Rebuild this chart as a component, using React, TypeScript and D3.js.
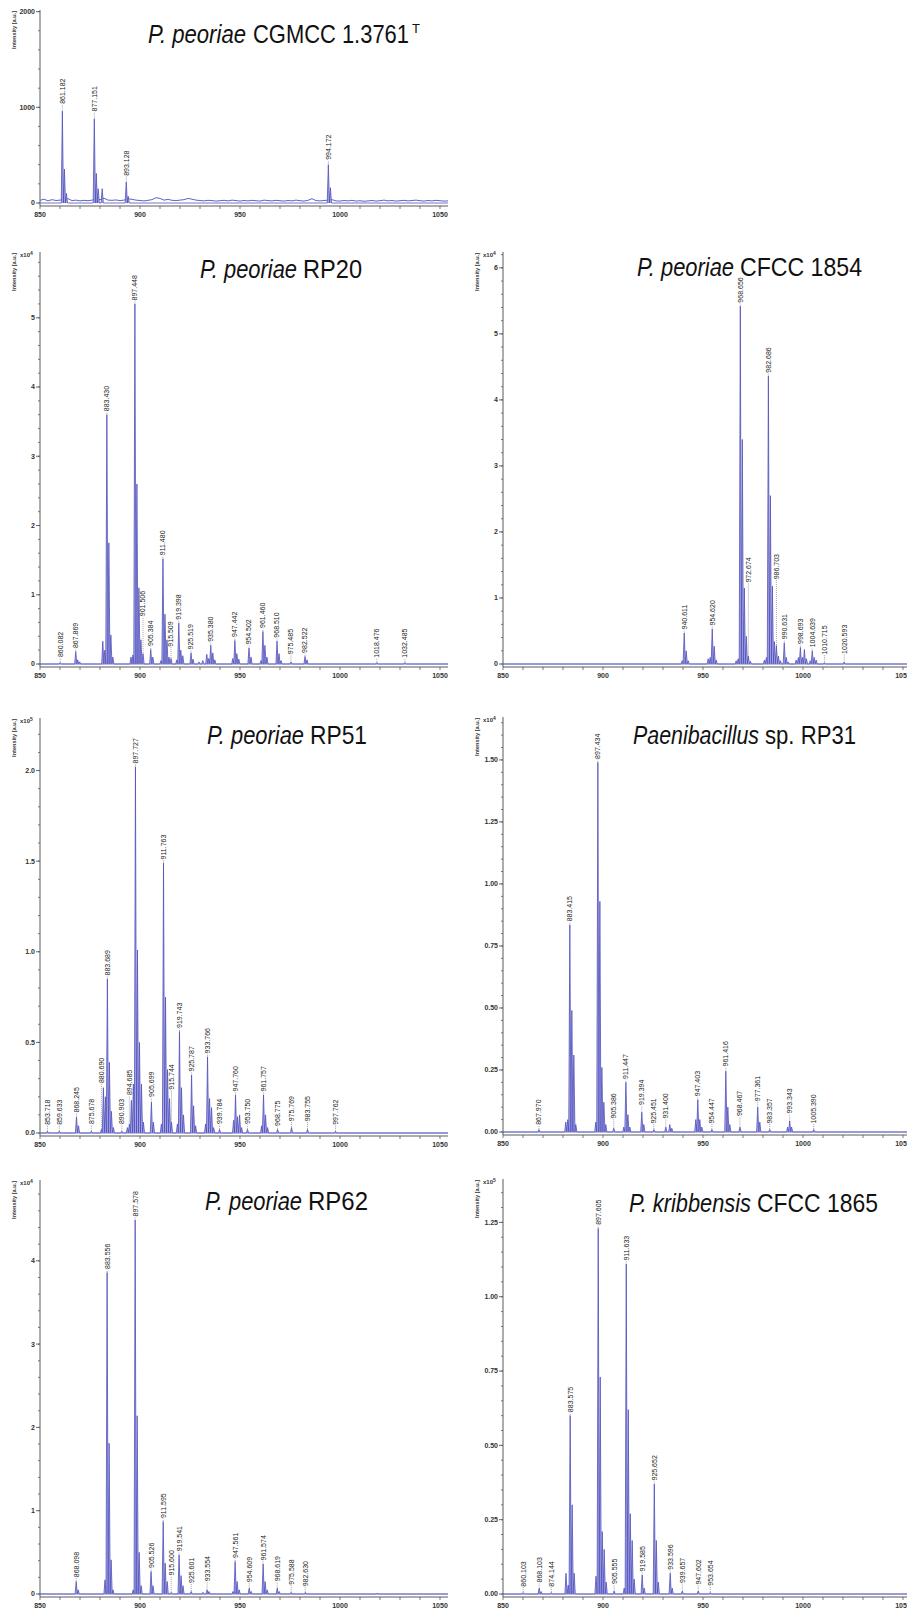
import React from "react";
import * as d3 from "d3";

type Peak = [number, number];
type Label = [string, number];

const MZ_DOMAIN: [number, number] = [850, 1054];
const xTickLabels = [850, 900, 950, 1000, 1050];
const xMinorTicks = d3.range(850, 1055, 10);

// ---------- Panel 1: P. peoriae CGMCC 1.3761T (absolute intensity) ----------
const cgmccPeaks: Peak[] = [
  [861.18, 960], [862.2, 355], [863.2, 100], [877.15, 880], [878.15, 310], [879.1, 150],
  [881.1, 150], [893.13, 220], [894.1, 70], [994.17, 400], [995.2, 160],
];
// baseline noise, every 2 m/z from 850 to 1054
const cgmccNoise = [
  28, 40, 22, 35, 26, 30, 38, 45, 25, 30, 22, 28, 24, 30, 40, 35, 50, 30, 28, 32,
  25, 30, 45, 38, 30, 26, 22, 28, 35, 55, 48, 30, 38, 28, 25, 30, 35, 48, 40, 30,
  26, 22, 28, 25, 20, 24, 28, 22, 30, 25, 20, 26, 22, 28, 24, 20, 30, 25, 22, 28,
  24, 20, 26, 22, 30, 24, 20, 28, 45, 25, 22, 26, 30, 35, 22, 20, 26, 22, 28, 20,
  24, 18, 22, 26, 20, 24, 30, 22, 26, 20, 24, 28, 22, 26, 30, 24, 20, 26, 22, 28,
  24, 20, 22,
];
const cgmccLabels: Label[] = [["861.182", 1000], ["877.151", 920], ["893.128", 247], ["994.172", 415]];
const cgmccYTicks = [0, 1000, 2000];

// ---------- Panel 2: P. peoriae RP20 (x10^4) ----------
const rp20Peaks: Peak[] = [
  [860.08, 0.02], [867.87, 0.18], [868.87, 0.06], [869.9, 0.03],
  [881.4, 0.33], [882.4, 0.2], [883.43, 3.6], [884.43, 1.75], [885.43, 0.42], [886.4, 0.1],
  [895.5, 0.1], [896.45, 0.13], [897.45, 5.2], [898.45, 2.6], [899.45, 1.1], [900.45, 0.35], [901.51, 0.15],
  [905.38, 0.21], [906.4, 0.1],
  [910.5, 0.05], [911.48, 1.52], [912.48, 0.72], [913.48, 0.35], [914.5, 0.1], [915.51, 0.08],
  [918.4, 0.06], [919.4, 0.59], [920.4, 0.2], [921.4, 0.12],
  [925.52, 0.16], [926.5, 0.07],
  [929.5, 0.03], [931.4, 0.05], [933.4, 0.14], [934.4, 0.08], [935.38, 0.27], [936.4, 0.16], [937.4, 0.06],
  [946.4, 0.08], [947.44, 0.34], [948.44, 0.15], [949.4, 0.07],
  [954.5, 0.23], [955.5, 0.1],
  [960.5, 0.05], [961.46, 0.47], [962.46, 0.27], [963.46, 0.1],
  [968.51, 0.33], [969.5, 0.15], [970.5, 0.05],
  [975.49, 0.03], [982.52, 0.11], [983.5, 0.06], [1018.48, 0.02], [1032.49, 0.02],
];
const rp20Labels: Label[] = [
  ["860.082", 0.05], ["867.869", 0.18], ["883.430", 3.6], ["897.448", 5.2], ["901.506", 0.64],
  ["905.384", 0.21], ["911.480", 1.52], ["915.509", 0.2], ["919.398", 0.59], ["925.519", 0.16],
  ["935.380", 0.27], ["947.442", 0.34], ["954.502", 0.23], ["961.460", 0.47], ["968.510", 0.33],
  ["975.485", 0.09], ["982.522", 0.11], ["1018.476", 0.04], ["1032.485", 0.04],
];
const rp20YTicks = [0, 1, 2, 3, 4, 5];

// ---------- Panel 3: P. peoriae CFCC 1854 (x10^4) ----------
const cfcc1854Peaks: Peak[] = [
  [939.6, 0.05], [940.61, 0.47], [941.6, 0.2], [942.6, 0.05],
  [952.6, 0.08], [953.6, 0.1], [954.62, 0.53], [955.6, 0.27], [956.6, 0.06],
  [966.6, 0.05], [967.6, 0.08], [968.66, 5.42], [969.66, 3.4], [970.66, 1.15], [971.66, 0.42], [972.67, 0.12], [973.7, 0.04],
  [980.7, 0.06], [981.7, 0.1], [982.69, 4.36], [983.69, 2.55], [984.69, 1.18], [985.69, 0.34], [986.7, 0.28], [987.7, 0.12], [988.7, 0.05],
  [990.63, 0.32], [991.6, 0.1], [992.6, 0.03],
  [996.6, 0.06], [997.7, 0.1], [998.69, 0.25], [999.7, 0.1], [1000.7, 0.22], [1001.7, 0.08],
  [1003.6, 0.05], [1004.64, 0.2], [1005.6, 0.1], [1006.6, 0.06],
  [1010.72, 0.02], [1020.59, 0.03],
];
const cfcc1854Labels: Label[] = [
  ["940.611", 0.47], ["954.620", 0.53], ["968.656", 5.42], ["972.674", 1.18], ["982.686", 4.36],
  ["986.703", 1.23], ["990.631", 0.32], ["998.693", 0.25], ["1004.639", 0.2], ["1010.715", 0.09], ["1020.593", 0.1],
];
const cfcc1854YTicks = [0, 1, 2, 3, 4, 5, 6];

// ---------- Panel 4: P. peoriae RP51 (x10^5) ----------
const rp51Peaks: Peak[] = [
  [853.72, 0.01], [859.63, 0.01], [868.25, 0.088], [869.25, 0.04], [875.68, 0.01],
  [880.69, 0.02], [881.7, 0.25], [882.7, 0.2], [883.69, 0.85], [884.69, 0.39], [885.69, 0.12], [886.7, 0.03],
  [890.9, 0.01], [893.7, 0.03], [894.69, 0.05], [895.7, 0.18], [896.7, 0.27], [897.73, 2.02], [898.73, 1.01], [899.73, 0.5], [900.73, 0.27], [901.7, 0.06],
  [905.7, 0.17], [906.7, 0.06],
  [910.7, 0.05], [911.76, 1.49], [912.76, 0.75], [913.76, 0.35], [914.76, 0.19], [915.74, 0.06],
  [918.7, 0.05], [919.74, 0.56], [920.74, 0.25], [921.74, 0.1],
  [925.79, 0.32], [926.79, 0.15], [927.8, 0.04],
  [932.8, 0.05], [933.77, 0.42], [934.77, 0.19], [935.77, 0.14], [936.8, 0.03], [939.78, 0.02],
  [946.8, 0.07], [947.76, 0.21], [948.76, 0.09], [949.8, 0.1], [950.8, 0.03], [953.75, 0.02],
  [960.8, 0.04], [961.76, 0.21], [962.76, 0.1], [963.8, 0.03],
  [968.78, 0.02], [975.77, 0.03], [983.76, 0.02], [997.76, 0.01],
];
const rp51Labels: Label[] = [
  ["853.718", 0.026], ["859.633", 0.026], ["868.245", 0.094], ["875.678", 0.03], ["880.690", 0.256],
  ["883.689", 0.85], ["890.903", 0.03], ["894.685", 0.19], ["897.727", 2.02], ["905.699", 0.18],
  ["911.763", 1.49], ["915.744", 0.22], ["919.743", 0.56], ["925.787", 0.32], ["933.766", 0.42],
  ["939.784", 0.03], ["947.760", 0.21], ["953.750", 0.03], ["961.757", 0.21], ["968.775", 0.02],
  ["975.769", 0.045], ["983.755", 0.045], ["997.762", 0.026],
];
const rp51YTicks = [0, 0.5, 1.0, 1.5, 2.0];

// ---------- Panel 5: Paenibacillus sp. RP31 (x10^4) ----------
const rp31Peaks: Peak[] = [
  [867.97, 0.01], [881.4, 0.04], [882.4, 0.05], [883.42, 0.835], [884.42, 0.49], [885.42, 0.31], [886.4, 0.03],
  [896.4, 0.04], [897.43, 1.49], [898.43, 0.93], [899.43, 0.26], [900.43, 0.12], [901.4, 0.03],
  [905.39, 0.015], [910.4, 0.02], [911.45, 0.2], [912.45, 0.07], [913.4, 0.02],
  [919.39, 0.08], [920.4, 0.03], [925.45, 0.01], [931.4, 0.02], [933.4, 0.03], [934.4, 0.015],
  [946.4, 0.05], [947.4, 0.13], [948.4, 0.05], [949.4, 0.02],
  [954.45, 0.01], [961.42, 0.245], [962.42, 0.1], [963.4, 0.03],
  [968.47, 0.02], [977.36, 0.1], [978.4, 0.04], [983.36, 0.01],
  [992.3, 0.02], [993.34, 0.045], [994.3, 0.02], [1005.39, 0.01],
];
const rp31Labels: Label[] = [
  ["867.970", 0.015], ["883.415", 0.835], ["897.434", 1.49], ["905.386", 0.04], ["911.447", 0.2],
  ["919.394", 0.095], ["925.451", 0.02], ["931.400", 0.04], ["947.403", 0.13], ["954.447", 0.02],
  ["961.416", 0.25], ["968.467", 0.05], ["977.361", 0.11], ["983.357", 0.02], ["993.343", 0.06], ["1005.390", 0.02],
];
const rp31YTicks = [0, 0.25, 0.5, 0.75, 1.0, 1.25, 1.5];

// ---------- Panel 6: P. peoriae RP62 (x10^4) ----------
const rp62Peaks: Peak[] = [
  [868.1, 0.15], [869.1, 0.05], [882.5, 0.17], [883.56, 3.86], [884.56, 1.81], [885.56, 0.41], [886.5, 0.05],
  [896.6, 0.05], [897.58, 4.49], [898.58, 2.14], [899.58, 0.5], [900.58, 0.1],
  [905.53, 0.27], [906.5, 0.1],
  [911.6, 0.87], [912.6, 0.37], [913.6, 0.15], [915.6, 0.02],
  [919.54, 0.47], [920.54, 0.22], [921.5, 0.1],
  [925.6, 0.03], [931.5, 0.02], [933.55, 0.05], [934.5, 0.03],
  [946.5, 0.03], [947.56, 0.39], [948.56, 0.15], [949.6, 0.05],
  [954.61, 0.07], [955.6, 0.03],
  [961.57, 0.36], [962.57, 0.15], [963.6, 0.05],
  [968.62, 0.07], [969.6, 0.03], [975.59, 0.02], [982.63, 0.02], [1018.5, 0.01],
];
const rp62Labels: Label[] = [
  ["868.098", 0.16], ["883.556", 3.86], ["897.578", 4.49], ["905.526", 0.27], ["911.595", 0.87],
  ["915.600", 0.18], ["919.541", 0.47], ["925.601", 0.09], ["933.554", 0.11], ["947.561", 0.39],
  ["954.609", 0.1], ["961.574", 0.36], ["968.619", 0.11], ["975.588", 0.07], ["982.630", 0.05],
];
const rp62YTicks = [0, 1, 2, 3, 4];

// ---------- Panel 7: P. kribbensis CFCC 1865 (x10^5) ----------
const cfcc1865Peaks: Peak[] = [
  [860.1, 0.005], [868.1, 0.02], [869.1, 0.008], [874.14, 0.005],
  [881.5, 0.07], [882.6, 0.03], [883.58, 0.6], [884.58, 0.3], [885.58, 0.07],
  [896.5, 0.06], [897.61, 1.23], [898.61, 0.73], [899.61, 0.21], [900.6, 0.15], [901.6, 0.04],
  [905.56, 0.01], [910.6, 0.02], [911.63, 1.11], [912.63, 0.62], [913.63, 0.27], [914.6, 0.18], [915.6, 0.05],
  [919.59, 0.064], [920.6, 0.02], [925.65, 0.37], [926.65, 0.18], [927.65, 0.04],
  [933.6, 0.07], [934.6, 0.02], [939.66, 0.01], [947.6, 0.01], [953.65, 0.005],
];
const cfcc1865Labels: Label[] = [
  ["860.103", 0.013], ["868.103", 0.027], ["874.144", 0.013], ["883.575", 0.6], ["897.605", 1.23],
  ["905.555", 0.022], ["911.633", 1.11], ["919.585", 0.064], ["925.652", 0.37], ["933.596", 0.07],
  ["939.657", 0.025], ["947.602", 0.02], ["953.654", 0.016],
];
const cfcc1865YTicks = [0, 0.25, 0.5, 0.75, 1.0, 1.25];

// ---------- layout ----------
interface Title { it: string; itX: number; itW: number; rg: string; rgX: number; rgW: number; base: number; sup?: boolean }
interface PanelCfg {
  peaks: Peak[]; labels: Label[]; noise?: number[];
  yTicks: number[]; yMinor: number; fmt: (v: number) => string; exp?: string; yMax: number;
  x0: number; top: number; zero: number; title: Title;
}

const f0 = d3.format("d");
const f1 = d3.format(".1f");
const f2 = d3.format(".2f");

const panels: PanelCfg[] = [
  { peaks: cgmccPeaks, labels: cgmccLabels, noise: cgmccNoise, yTicks: cgmccYTicks, yMinor: 200, fmt: f0, yMax: 2017,
    x0: 40, top: 10, zero: 203,
    title: { it: "P. peoriae", itX: 148, itW: 98, rg: "CGMCC 1.3761", rgX: 253, rgW: 156, base: 43, sup: true } },
  { peaks: rp20Peaks, labels: rp20Labels, yTicks: rp20YTicks, yMinor: 0.2, fmt: f0, exp: "4", yMax: 5.95,
    x0: 40, top: 252, zero: 664,
    title: { it: "P. peoriae", itX: 200, itW: 97, rg: "RP20", rgX: 303, rgW: 59, base: 278 } },
  { peaks: cfcc1854Peaks, labels: cfcc1854Labels, yTicks: cfcc1854YTicks, yMinor: 0.2, fmt: f0, exp: "4", yMax: 6.24,
    x0: 503, top: 252, zero: 664,
    title: { it: "P. peoriae", itX: 637, itW: 97, rg: "CFCC 1854", rgX: 740, rgW: 122, base: 276 } },
  { peaks: rp51Peaks, labels: rp51Labels, yTicks: rp51YTicks, yMinor: 0.1, fmt: f1, exp: "5", yMax: 2.29,
    x0: 40, top: 718, zero: 1133,
    title: { it: "P. peoriae", itX: 207, itW: 97, rg: "RP51", rgX: 310, rgW: 57, base: 744 } },
  { peaks: rp31Peaks, labels: rp31Labels, yTicks: rp31YTicks, yMinor: 0.05, fmt: f2, exp: "4", yMax: 1.673,
    x0: 503, top: 717, zero: 1132,
    title: { it: "Paenibacillus", itX: 633, itW: 126, rg: "sp. RP31", rgX: 765, rgW: 91, base: 744 } },
  { peaks: rp62Peaks, labels: rp62Labels, yTicks: rp62YTicks, yMinor: 0.2, fmt: f0, exp: "4", yMax: 4.97,
    x0: 40, top: 1180, zero: 1594,
    title: { it: "P. peoriae", itX: 205, itW: 97, rg: "RP62", rgX: 308, rgW: 60, base: 1210 } },
  { peaks: cfcc1865Peaks, labels: cfcc1865Labels, yTicks: cfcc1865YTicks, yMinor: 0.05, fmt: f2, exp: "5", yMax: 1.396,
    x0: 503, top: 1179, zero: 1594,
    title: { it: "P. kribbensis", itX: 629, itW: 122, rg: "CFCC 1865", rgX: 757, rgW: 121, base: 1212 } },
];

const FONT = "'Liberation Sans', Arial, Helvetica, sans-serif";
const AXIS = "#5a5a5a";
const SPEC_STROKE = "#5050bb";
const SPEC_FILL = "#a9a9e6";

function Panel({ c }: { c: PanelCfg }) {
  const x = d3.scaleLinear().domain(MZ_DOMAIN).range([c.x0, c.x0 + 408]);
  const y = d3.scaleLinear().domain([0, c.yMax]).range([c.zero, c.top]);
  const axisY = c.zero + 3;
  const hw = 0.55;

  const sorted = [...c.peaks].sort((a, b) => a[0] - b[0]);
  const pts: Peak[] = [[MZ_DOMAIN[0], 0]];
  sorted.forEach(([m, v]) => { pts.push([m - hw, 0], [m, v], [m + hw, 0]); });
  pts.push([MZ_DOMAIN[1], 0]);

  const area = d3.area<Peak>().x(d => x(d[0])).y0(c.zero).y1(d => y(d[1]));
  const line = d3.line<Peak>().x(d => x(d[0])).y(d => y(d[1]));

  const noisePts: Peak[] | null = c.noise ? c.noise.map((v, i) => [MZ_DOMAIN[0] + 2 * i, v] as Peak) : null;

  const minor = d3.range(0, c.yMax + 1e-9, c.yMinor);

  const peakAt = (m: number) => {
    let best = 0; let bd = 0.7;
    c.peaks.forEach(([pm, pv]) => { const d = Math.abs(pm - m); if (d < bd) { bd = d; best = pv; } });
    return best;
  };

  const t = c.title;
  return (
    <g>
      {/* spectrum */}
      {noisePts && <path d={line(noisePts) || ""} fill="none" stroke={SPEC_STROKE} strokeWidth={0.9} />}
      <path d={area(pts) || ""} fill={SPEC_FILL} stroke="none" />
      <path d={line(pts) || ""} fill="none" stroke={SPEC_STROKE} strokeWidth={0.8} />
      {!noisePts && <line x1={c.x0} x2={x(MZ_DOMAIN[1])} y1={c.zero} y2={c.zero} stroke="#7a7ad0" strokeWidth={1} />}

      {/* peak labels */}
      {c.labels.map(([txt, lvl]) => {
        const m = +txt;
        const px = x(m);
        const pv = peakAt(m);
        const yb = Math.min(y(lvl), y(pv)) - 3;
        const yp = y(pv) - 0.5;
        return (
          <g key={txt}>
            <line x1={px} x2={px} y1={yp} y2={yb} stroke="#666" strokeWidth={0.6} strokeDasharray="1,1" />
            <text transform={`translate(${px},${yb - 0.5}) rotate(-90)`} dy="0.35em" fontSize={7}
              fontFamily={FONT} fill="#222">{txt}</text>
          </g>
        );
      })}

      {/* y axis */}
      <line x1={c.x0} x2={c.x0} y1={c.top} y2={axisY} stroke={AXIS} strokeWidth={1} />
      {minor.map(v => (
        <line key={"m" + v} x1={c.x0 - 2} x2={c.x0} y1={y(v)} y2={y(v)} stroke={AXIS} strokeWidth={0.8} />
      ))}
      {c.yTicks.map(v => (
        <g key={"t" + v}>
          <line x1={c.x0 - 4} x2={c.x0} y1={y(v)} y2={y(v)} stroke={AXIS} strokeWidth={0.9} />
          <text x={c.x0 - 5} y={y(v)} dy="0.35em" textAnchor="end" fontSize={7} fontWeight="bold"
            fontFamily={FONT} fill="#333">{c.fmt(v)}</text>
        </g>
      ))}
      <text transform={`translate(${c.x0 - 24},${c.top + 1}) rotate(-90)`} textAnchor="end" fontSize={5.6}
        fontWeight="bold" fontFamily={FONT} fill="#333">Intensity [a.u.]</text>
      {c.exp && (
        <text x={c.x0 - 20} y={c.top + 5} fontSize={6} fontWeight="bold" fontFamily={FONT} fill="#333">
          x10<tspan dy={-2.5} fontSize={5}>{c.exp}</tspan>
        </text>
      )}

      {/* x axis */}
      <line x1={c.x0} x2={x(MZ_DOMAIN[1])} y1={axisY} y2={axisY} stroke={AXIS} strokeWidth={1} />
      {xMinorTicks.map(v => (
        <line key={"xm" + v} x1={x(v)} x2={x(v)} y1={axisY} y2={axisY + 3} stroke={AXIS} strokeWidth={0.8} />
      ))}
      {xTickLabels.map(v => (
        <text key={"xl" + v} x={x(v)} y={axisY + 11} textAnchor="middle" fontSize={7} fontWeight="bold"
          fontFamily={FONT} fill="#333">{v}</text>
      ))}

      {/* title */}
      <text x={t.itX} y={t.base} fontSize={26} fontStyle="italic" fontFamily={FONT} fill="#111"
        textLength={t.itW} lengthAdjust="spacingAndGlyphs">{t.it}</text>
      <text x={t.rgX} y={t.base} fontSize={26} fontFamily={FONT} fill="#111"
        textLength={t.rgW} lengthAdjust="spacingAndGlyphs">{t.rg}</text>
      {t.sup && (
        <text x={t.rgX + t.rgW + 3} y={t.base - 10} fontSize={13} fontFamily={FONT} fill="#111">T</text>
      )}
    </g>
  );
}

export default function App() {
  return (
    <svg width={907} height={1611} viewBox="0 0 907 1611"
      style={{ position: "absolute", left: 0, top: 0, background: "#fff" }}>
      <rect x={0} y={0} width={907} height={1611} fill="#fff" />
      {panels.map((c, i) => <Panel key={i} c={c} />)}
    </svg>
  );
}
